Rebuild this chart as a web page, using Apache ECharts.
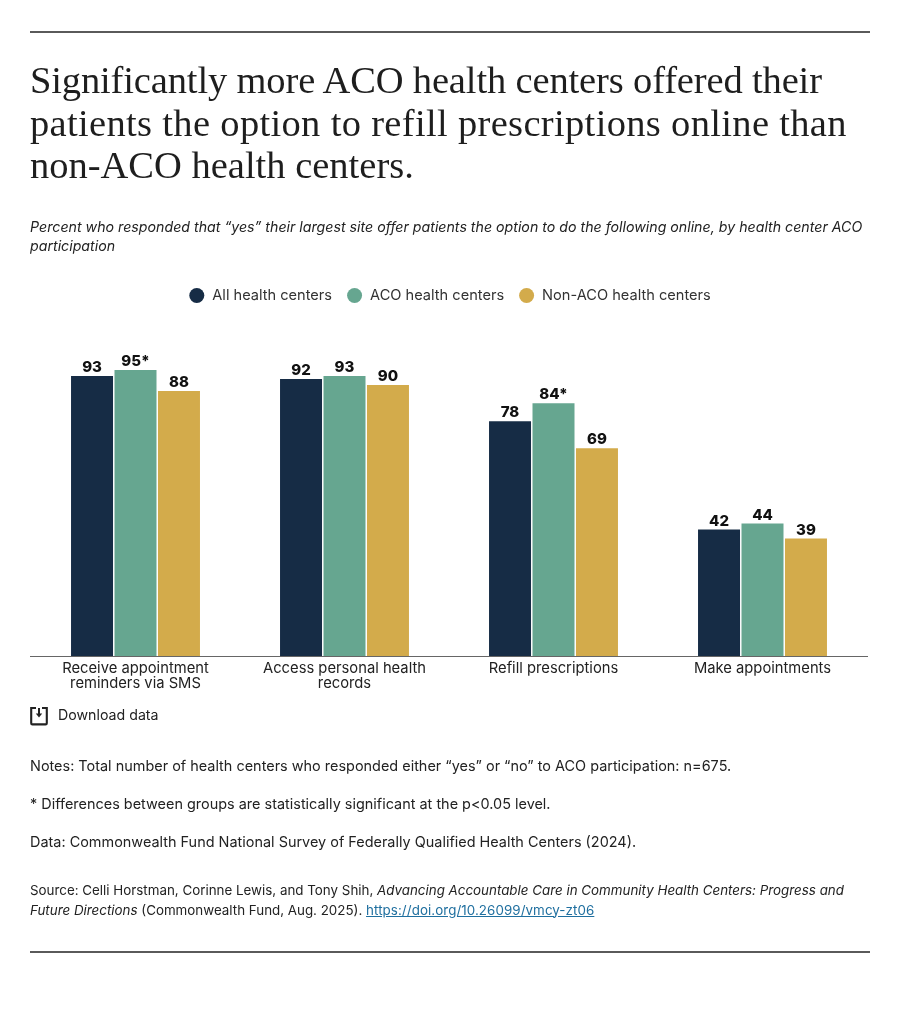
<!DOCTYPE html>
<html>
<head>
<meta charset="utf-8">
<script src="https://cdn.jsdelivr.net/npm/echarts@6/dist/echarts.min.js"></script>
<style>
  html, body { margin: 0; padding: 0; background: #fff; }
  body { width: 900px; height: 1014px; position: relative; overflow: hidden; font-family: Inter, "Noto Sans", sans-serif; color: #222; }
  #chart { position: absolute; left: 0; top: 0; width: 900px; height: 1014px; }
  .rule { position: absolute; left: 30px; width: 840px; height: 2px; background: #5a5a5a; }
  .txt { position: absolute; left: 30px; width: 840px; }
  h1 { margin: 0; font-family: "Liberation Serif", serif; font-weight: 400; font-size: 38.5px; line-height: 42.7px; color: #1e1e1e; white-space: nowrap; }
  .sub { font-style: italic; font-size: 14.2px; line-height: 19px; }
  .note { font-size: 14.45px; line-height: 19px; white-space: nowrap; }
  .src { font-size: 13.37px; line-height: 19.5px; white-space: nowrap; }
  a { color: #1f6f9f; letter-spacing: .07px; }
  #dl { position: absolute; left: 30px; top: 705px; }
</style>
</head>
<body>
<div class="rule" style="top:656px;width:838px;height:1px;background:#666"></div>
<div id="chart"></div>
<div class="rule" style="top:31px"></div>
<div class="txt" style="top:59px"><h1><span style="letter-spacing:-.14px">Significantly more ACO health centers offered their</span><br><span style="letter-spacing:.33px">patients the option to refill prescriptions online than</span><br>non-ACO health centers.</h1></div>
<div class="txt sub" style="top:217px">Percent who responded that “yes” their largest site offer patients the option to do the following online, by health center ACO participation</div>
<svg id="dl" width="19" height="21" viewBox="0 0 19 21" fill="none" stroke="#222" stroke-width="2.1">
  <path d="M6 3H1.2V18.2Q1.2 19.4 2.4 19.4H15.6Q16.8 19.4 16.8 18.2V3H12"/>
  <path d="M9 3V9.5" stroke-width="2"/>
  <path d="M5.8 8.6L9 12.6L12.2 8.6Z" fill="#222" stroke="none"/>
</svg>
<div class="txt note" style="left:58px;top:705px;font-size:14.2px">Download data</div>
<div class="txt note" style="top:756px">Notes: Total number of health centers who responded either “yes” or “no” to ACO participation: n=675.</div>
<div class="txt note" style="top:794px">* Differences between groups are statistically significant at the p&lt;0.05 level.</div>
<div class="txt note" style="top:832px">Data: Commonwealth Fund National Survey of Federally Qualified Health Centers (2024).</div>
<div class="txt src" style="top:881px">Source: Celli Horstman, Corinne Lewis, and Tony Shih, <i>Advancing Accountable Care in Community Health Centers: Progress and<br>Future Directions</i> (Commonwealth Fund, Aug. 2025). <a href="https://doi.org/10.26099/vmcy-zt06">https://doi.org/10.26099/vmcy-zt06</a></div>
<div class="rule" style="top:951px"></div>
<script>
const categories = ['Receive appointment\nreminders via SMS', 'Access personal health\nrecords', 'Refill prescriptions', 'Make appointments'];
const allCenters = [93, 92, 78, 42];
const acoCenters = [95, 93, 84, 44];
const nonAcoCenters = [88, 90, 69, 39];
const acoSignificant = [true, false, true, false];
const seriesNames = ['All health centers', 'ACO health centers', 'Non-ACO health centers'];
const seriesColors = ['#162c45', '#66a690', '#d3ab4b'];

const labelStyle = {
  show: true, position: 'top', distance: 1,
  fontFamily: 'Inter, sans-serif', fontSize: 15, fontWeight: 800, color: '#111'
};

function barSeries(name, values, color, suffixFlags) {
  return {
    name, type: 'bar', data: values, barWidth: 42, barGap: '3.5%',
    itemStyle: { color },
    label: Object.assign({}, labelStyle, {
      formatter: p => p.value + (suffixFlags && suffixFlags[p.dataIndex] ? '*' : '')
    })
  };
}

const chart = echarts.init(document.getElementById('chart'), null, { renderer: 'canvas' });
chart.setOption({
  animation: false,
  legend: {
    top: 283, left: 'center', icon: 'circle', itemWidth: 15, itemHeight: 15, itemGap: 15,
    selectedMode: false,
    textStyle: { fontFamily: 'Inter, sans-serif', fontSize: 14.6, color: '#333', padding: [0, 0, 0, 3] }
  },
  grid: { left: 31, right: 33, top: 355, bottom: 358 },
  xAxis: {
    type: 'category', data: categories,
    axisTick: { show: false },
    axisLine: { lineStyle: { color: '#666', width: 1 } },
    axisLabel: { interval: 0, margin: 5, lineHeight: 15, fontFamily: 'Inter, sans-serif', fontSize: 14.75, color: '#222' }
  },
  yAxis: { type: 'value', min: 0, max: 100, show: false, splitLine: { show: false } },
  series: [
    barSeries(seriesNames[0], allCenters, seriesColors[0]),
    barSeries(seriesNames[1], acoCenters, seriesColors[1], acoSignificant),
    barSeries(seriesNames[2], nonAcoCenters, seriesColors[2])
  ]
});
</script>
</body>
</html>
